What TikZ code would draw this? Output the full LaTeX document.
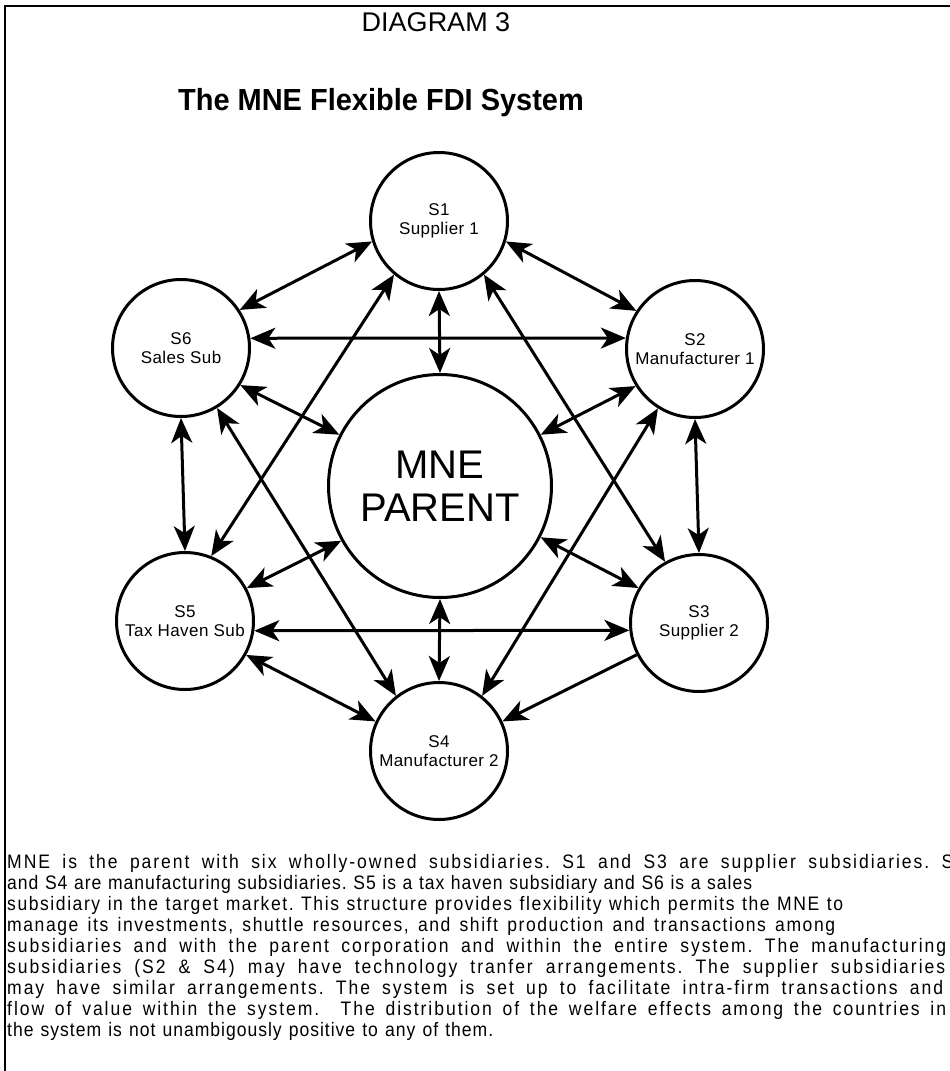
\documentclass[tikz,border=0pt]{standalone}
\usepackage{fontspec}
\setmainfont{Liberation Sans}
\newfontfamily\parafont[FakeStretch=0.9,LetterSpace=5]{Liberation Sans}
\newfontfamily\parafontmid[FakeStretch=0.9,LetterSpace=8]{Liberation Sans}
\newfontfamily\parafontwide[FakeStretch=0.9,LetterSpace=10]{Liberation Sans}
\newfontfamily\nodefont[LetterSpace=2.5]{Liberation Sans}
\newfontfamily\titlefont[FakeStretch=0.95]{Liberation Sans}
\usetikzlibrary{arrows.meta}
\begin{document}
\frenchspacing
\begin{tikzpicture}[x=1pt,y=-1pt,
  sub/.style={circle, draw, line width=3pt, minimum size=137pt, inner sep=0pt, align=center,
    font=\nodefont\fontsize{17}{19}\selectfont},
  parent/.style={circle, draw, line width=3pt, minimum size=223pt, inner sep=0pt, align=center,
    font=\fontsize{40}{43}\selectfont},
  tipst/.tip={Stealth[length=25pt,width=21pt,inset=7pt]},
  link/.style={line width=3pt, tipst-tipst},
  onelink/.style={line width=3pt, -tipst},
  paraline/.style={anchor=base west, inner sep=0pt, font=\parafont\fontsize{19.5}{21}\selectfont},
  paralinem/.style={anchor=base west, inner sep=0pt, font=\parafontmid\fontsize{19.5}{21}\selectfont},
  paralinej/.style={anchor=base west, inner sep=0pt, font=\parafontwide\fontsize{19.5}{21}\selectfont}
]
\useasboundingbox (0,0) rectangle (950,1071);
\clip (0,0) rectangle (950,1071);
\draw[line width=2pt] (5,1090) -- (5,6) -- (970,6);

\node[anchor=base, inner sep=0pt, font=\fontsize{27}{29}\selectfont] (d3) at (436,31) {DIAGRAM 3};
\node[anchor=base, inner sep=0pt, font=\titlefont\bfseries\fontsize{30.5}{32}\selectfont] (ttl) at (381,110) {The MNE Flexible FDI System};

\node[parent] (M) at (440,486) {MNE\\PARENT};
\node[sub] (S1) at (439,221) {S1\\Supplier 1};
\node[sub] (S2) at (695,349) {S2\\Manufacturer 1};
\node[sub] (S3) at (699,623) {S3\\Supplier 2};
\node[sub] (S4) at (439,751) {S4\\Manufacturer 2};
\node[sub] (S5) at (185,621) {S5\\Tax Haven Sub};
\node[sub] (S6) at (181,348) {S6\\Sales Sub};

\draw[link] (S1.197) -- (S6.33);
\draw[link] (S1.343) -- (S2.147);
\draw[link] (S1.270) -- (M.90);
\draw[link] (S1.230) -- (S5.68);
\draw[link] (S1.310) -- (S3.119);
\draw[link] (S6.8) -- (S2.171);
\draw[link] (S6.-32) -- (M.153);
\draw[link] (S6.-59) -- (S4.128);
\draw[link] (S6.270) -- (S5.90);
\draw[link] (S2.212) -- (M.27);
\draw[link] (S2.238) -- (S4.52);
\draw[link] (S2.270) -- (S3.90);
\draw[link] (M.209) -- (S5.28);
\draw[link] (M.333) -- (S3.150);
\draw[link] (M.270) -- (S4.90);
\draw[link] (S5.352) -- (S3.186);
\draw[link] (S5.331) -- (S4.155);
\draw[onelink] (S3.207) -- (S4.25);

\node[paralinej] (p1) at (7,868) {\makebox[958pt][s]{MNE is the parent with six wholly-owned subsidiaries. S1 and S3 are supplier subsidiaries. S2}};
\node[paraline] (p2) at (7,889) {\makebox[745pt][s]{and S4 are manufacturing subsidiaries. S5 is a tax haven subsidiary and S6 is a sales}};
\node[paralinem] (p3) at (7,910) {\makebox[836pt][s]{subsidiary in the target market. This structure provides flexibility which permits the MNE to}};
\node[paralinem] (p4) at (7,931) {\makebox[828pt][s]{manage its investments, shuttle resources, and shift production and transactions among}};
\node[paralinej] (p5) at (7,952) {\makebox[939pt][s]{subsidiaries and with the parent corporation and within the entire system. The manufacturing}};
\node[paralinej] (p6) at (7,973) {\makebox[938pt][s]{subsidiaries (S2 \& S4) may have technology tranfer arrangements. The supplier subsidiaries}};
\node[paralinej] (p7) at (7,994) {\makebox[936pt][s]{may have similar arrangements. The system is set up to facilitate intra-firm transactions and}};
\node[paralinej] (p8) at (7,1015) {\makebox[939pt][s]{flow of value within the system.\ \ The distribution of the welfare effects among the countries in}};
\node[paraline] (p9) at (7,1036) {\makebox[486pt][s]{the system is not unambigously positive to any of them.}};
\end{tikzpicture}
\end{document}
